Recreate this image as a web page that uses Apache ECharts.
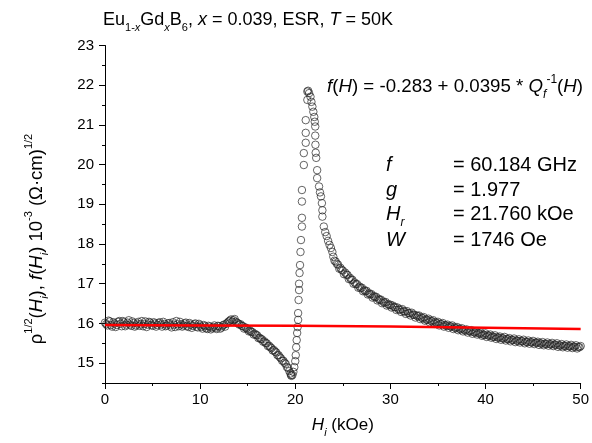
<!DOCTYPE html>
<html>
<head>
<meta charset="utf-8">
<script src="https://cdn.jsdelivr.net/npm/echarts@6/dist/echarts.min.js"></script>
<style>
html,body{margin:0;padding:0;background:#fff;}
#chart{width:592px;height:443px;}
</style>
</head>
<body>
<div id="chart"></div>
<script>
// ---- data ----
const yTickValues = [15, 16, 17, 18, 19, 20, 21, 22, 23];
const yMinorTickValues = [14.5, 15.5, 16.5, 17.5, 18.5, 19.5, 20.5, 21.5, 22.5];

// flat part below resonance, H = 0 ... 14 kOe (first sweep)
const flatBranch = [
  [0,16.02],[0.25,15.95],[0.5,16.05],[0.75,15.92],[1,16.0],[1.25,15.96],[1.5,16.06],[1.75,15.93],
  [2,16.03],[2.25,15.97],[2.5,16.08],[2.75,15.94],[3,16.01],[3.25,15.95],[3.5,16.04],[3.75,15.98],
  [4,15.93],[4.25,16.05],[4.5,15.97],[4.75,16.02],[5,15.94],[5.25,16.0],[5.5,15.96],[5.75,16.03],
  [6,15.92],[6.25,15.99],[6.5,15.95],[6.75,16.01],[7,15.9],[7.25,15.97],[7.5,16.06],[7.75,15.93],
  [8,15.98],[8.25,15.95],[8.5,16.02],[8.75,15.91],[9,15.97],[9.25,15.94],[9.5,16.0],[9.75,15.9],
  [10,15.95],[10.25,15.87],[10.5,15.93],[10.75,15.86],[11,15.92],[11.25,15.88],[11.5,15.95],[11.75,15.86],
  [12,15.93],[12.25,15.9],[12.5,15.97],[12.75,15.99],[13,16.05],[13.25,16.1],[13.5,16.08],[13.75,16.04],[14,16.0]
];
// flat part, second sweep
const flatBranch2 = [
  [0.125,15.98],[0.375,16.07],[0.625,15.96],[0.875,16.03],[1.125,15.91],[1.375,16.04],[1.625,15.99],[1.875,16.06],
  [2.125,15.93],[2.375,16.02],[2.625,15.97],[2.875,16.05],[3.125,15.92],[3.375,16.0],[3.625,15.94],[3.875,16.06],
  [4.125,15.99],[4.375,15.91],[4.625,16.04],[4.875,15.96],[5.125,16.03],[5.375,15.92],[5.625,16.01],[5.875,15.97],
  [6.125,16.04],[6.375,15.93],[6.625,16.0],[6.875,15.95],[7.125,16.03],[7.375,15.91],[7.625,15.98],[7.875,16.04],
  [8.125,15.92],[8.375,16.0],[8.625,15.94],[8.875,16.01],[9.125,15.89],[9.375,15.98],[9.625,15.92],[9.875,15.99],
  [10.125,15.91],[10.375,15.96],[10.625,15.88],[10.875,15.94],[11.125,15.85],[11.375,15.91],[11.625,15.89],[11.875,15.94],
  [12.125,15.87],[12.375,15.95],[12.625,15.92],[12.875,16.02],[13.125,16.07],[13.375,16.04],[13.625,16.11],[13.875,16.02]
];
// dip before resonance, H = 14.25 ... 19.6 kOe
const dipBranch = [
  [14.25,15.98],[14.5,15.93],[14.75,15.9],[15,15.85],[15.25,15.82],[15.5,15.78],[15.75,15.74],[16,15.7],
  [16.25,15.64],[16.5,15.6],[16.75,15.55],[17,15.5],[17.25,15.44],[17.5,15.38],[17.75,15.33],[18,15.27],
  [18.25,15.2],[18.5,15.12],[18.75,15.06],[19,14.98],[19.25,14.88],[19.5,14.74],[19.6,14.68]
];
const dipBranch2 = [
  [14.125,15.97],[14.375,15.94],[14.625,15.87],[14.875,15.88],[15.125,15.8],[15.375,15.79],[15.625,15.72],[15.875,15.71],
  [16.125,15.63],[16.375,15.61],[16.625,15.54],[16.875,15.51],[17.125,15.43],[17.375,15.4],[17.625,15.32],[17.875,15.29],
  [18.125,15.2],[18.375,15.15],[18.625,15.06],[18.875,15.01],[19.125,14.9],[19.375,14.8],[19.55,14.7]
];
// steep rise up to the peak
const risingBranch = [
  [19.7,14.7],[19.8,14.78],[19.9,14.9],[20.0,15.05],[20.05,15.2],[20.1,15.4],[20.15,15.58],[20.2,15.76],
  [20.25,15.91],[20.3,16.09],[20.3,16.26],[20.35,16.59],[20.4,16.84],[20.4,17.0],[20.45,17.27],[20.5,17.47],
  [20.55,17.8],[20.6,18.1],[20.7,18.44],[20.7,18.66],[20.7,19.07],[20.7,19.36],[20.9,19.99],[20.9,20.29],
  [21.1,20.55],[21.1,20.8],[21.1,21.12],[21.27,21.63],[21.27,21.84]
];
// fall after the peak, H = 21.35 ... 24 kOe
const fallingBranch = [
  [21.35,21.86],[21.45,21.8],[21.6,21.71],[21.7,21.58],[21.8,21.46],[21.9,21.33],[22.0,21.2],[22.05,21.08],
  [22.1,20.96],[22.1,20.73],[22.12,20.5],[22.15,20.3],[22.2,20.17],[22.3,19.86],[22.3,19.66],[22.5,19.45],
  [22.6,19.3],[22.7,19.2],[22.8,19.03],[22.85,18.85],[22.85,18.69],[23.0,18.44],[23.15,18.3],[23.3,18.2],
  [23.45,18.08],[23.6,17.98],[23.75,17.9],[23.9,17.8]
];
// tail above resonance, H = 24 ... 50 kOe (first sweep)
const tailBranch = [
  [24,17.68],[24.25,17.56],[24.5,17.48],[24.75,17.4],[25,17.33],[25.25,17.28],[25.5,17.22],[25.75,17.15],
  [26,17.1],[26.25,17.03],[26.5,16.99],[26.75,16.93],[27,16.9],[27.25,16.84],[27.5,16.82],[27.75,16.76],
  [28,16.74],[28.25,16.69],[28.5,16.67],[28.75,16.62],[29,16.6],[29.25,16.55],[29.5,16.54],[29.75,16.49],
  [30,16.47],[30.25,16.45],[30.5,16.41],[30.75,16.4],[31,16.35],[31.25,16.36],[31.5,16.3],[31.75,16.31],
  [32,16.26],[32.25,16.27],[32.5,16.22],[32.75,16.2],[33,16.2],[33.25,16.15],[33.5,16.16],[33.75,16.1],
  [34,16.12],[34.25,16.07],[34.5,16.08],[34.75,16.03],[35,16.04],[35.25,15.99],[35.5,16.01],[35.75,15.96],
  [36,15.97],[36.25,15.93],[36.5,15.95],[36.75,15.9],[37,15.91],[37.25,15.87],[37.5,15.88],[37.75,15.84],
  [38,15.85],[38.25,15.81],[38.5,15.83],[38.75,15.78],[39,15.8],[39.25,15.76],[39.5,15.77],[39.75,15.72],
  [40,15.75],[40.25,15.7],[40.5,15.72],[40.75,15.67],[41,15.7],[41.25,15.65],[41.5,15.67],[41.75,15.63],
  [42,15.66],[42.25,15.61],[42.5,15.63],[42.75,15.59],[43,15.62],[43.25,15.57],[43.5,15.6],[43.75,15.56],
  [44,15.59],[44.25,15.54],[44.5,15.57],[44.75,15.53],[45,15.56],[45.25,15.52],[45.5,15.54],[45.75,15.5],
  [46,15.53],[46.25,15.49],[46.5,15.52],[46.75,15.48],[47,15.51],[47.25,15.47],[47.5,15.5],[47.75,15.45],
  [48,15.48],[48.25,15.44],[48.5,15.47],[48.75,15.43],[49,15.46],[49.25,15.42],[49.5,15.45],[49.75,15.41],[50,15.43]
];
// tail, second sweep
const tailBranch2 = [
  [24.125,17.58],[24.375,17.5],[24.625,17.38],[24.875,17.35],[25.125,17.24],[25.375,17.23],[25.625,17.12],[25.875,17.1],
  [26.125,17.0],[26.375,16.99],[26.625,16.9],[26.875,16.89],[27.125,16.81],[27.375,16.81],[27.625,16.73],[27.875,16.73],
  [28.125,16.65],[28.375,16.66],[28.625,16.58],[28.875,16.59],[29.125,16.51],[29.375,16.52],[29.625,16.45],[29.875,16.46],
  [30.125,16.4],[30.375,16.41],[30.625,16.34],[30.875,16.35],[31.125,16.29],[31.375,16.31],[31.625,16.24],[31.875,16.26],
  [32.125,16.2],[32.375,16.22],[32.625,16.15],[32.875,16.18],[33.125,16.11],[33.375,16.13],[33.625,16.07],[33.875,16.09],
  [34.125,16.03],[34.375,16.05],[34.625,15.99],[34.875,16.01],[35.125,15.95],[35.375,15.98],[35.625,15.92],[35.875,15.94],
  [36.125,15.89],[36.375,15.92],[36.625,15.86],[36.875,15.88],[37.125,15.83],[37.375,15.85],[37.625,15.8],[37.875,15.82],
  [38.125,15.77],[38.375,15.8],[38.625,15.74],[38.875,15.77],[39.125,15.72],[39.375,15.74],[39.625,15.69],[39.875,15.71],
  [40.125,15.66],[40.375,15.69],[40.625,15.64],[40.875,15.66],[41.125,15.61],[41.375,15.64],[41.625,15.59],[41.875,15.62],
  [42.125,15.57],[42.375,15.6],[42.625,15.55],[42.875,15.58],[43.125,15.53],[43.375,15.56],[43.625,15.52],[43.875,15.55],
  [44.125,15.5],[44.375,15.53],[44.625,15.49],[44.875,15.52],[45.125,15.48],[45.375,15.51],[45.625,15.46],[45.875,15.49],
  [46.125,15.45],[46.375,15.48],[46.625,15.44],[46.875,15.47],[47.125,15.43],[47.375,15.46],[47.625,15.41],[47.875,15.44],
  [48.125,15.4],[48.375,15.43],[48.625,15.39],[48.875,15.42],[49.125,15.38],[49.375,15.41],[49.625,15.37],[49.875,15.4]
];
// fitted f(H) (red line)
const fitLine = [[0,15.96],[10,15.95],[20,15.94],[30,15.92],[40,15.89],[50,15.86]];

const esrPoints = [].concat(flatBranch, flatBranch2, dipBranch, dipBranch2, risingBranch,
                            fallingBranch, tailBranch, tailBranch2);

// ---- chart ----
const FONT = 'Arial, "Liberation Sans", sans-serif';
const chart = echarts.init(document.getElementById('chart'), null, {renderer: 'canvas'});

function richSet(base) {
  const lh = Math.round(base * 1.45);
  const s = Math.round(base * 0.62);
  return {
    n:  {fontSize: base, fontFamily: FONT, color: '#000', lineHeight: lh},
    i:  {fontSize: base, fontFamily: FONT, color: '#000', fontStyle: 'italic', lineHeight: lh},
    sub:{fontSize: s, fontFamily: FONT, color: '#000', lineHeight: s, verticalAlign: 'bottom'},
    subi:{fontSize: s, fontFamily: FONT, color: '#000', fontStyle: 'italic', lineHeight: s, verticalAlign: 'bottom'},
    sup:{fontSize: s, fontFamily: FONT, color: '#000', lineHeight: s, verticalAlign: 'top'}
  };
}

function txt(x, y, text, size) {
  return {
    type: 'text', x: x, y: y, silent: true,
    style: {
      text: text, rich: richSet(size), fontSize: size, fontFamily: FONT, fill: '#000',
      textAlign: 'left', textVerticalAlign: 'middle', align: 'left', verticalAlign: 'middle'
    }
  };
}

const option = {
  animation: false,
  backgroundColor: '#fff',
  grid: {left: 105, right: 9, top: 45.5, bottom: 60, containLabel: false},
  xAxis: {
    type: 'value', min: 0, max: 50, interval: 10,
    name: '{i|H}{subi|i}{n| (kOe)}', nameLocation: 'middle', nameGap: 30,
    nameTextStyle: {rich: richSet(17)},
    axisLine: {show: true, onZero: false, lineStyle: {color: '#000', width: 1}},
    axisTick: {show: true, length: 6, lineStyle: {color: '#000', width: 1}},
    minorTick: {show: true, splitNumber: 2, length: 3, lineStyle: {color: '#000', width: 1}},
    axisLabel: {fontSize: 15, fontFamily: FONT, color: '#000', margin: 9},
    splitLine: {show: false}
  },
  yAxis: [{
    type: 'value', min: 14.5, max: 23,
    axisLine: {show: true, onZero: false, lineStyle: {color: '#000', width: 1}},
    axisTick: {show: true, length: 6, customValues: yTickValues, lineStyle: {color: '#000', width: 1}},
    axisLabel: {fontSize: 15, fontFamily: FONT, color: '#000', margin: 11, customValues: yTickValues},
    splitLine: {show: false}
  }, {
    type: 'value', min: 14.5, max: 23, position: 'left',
    axisLine: {show: false},
    axisTick: {show: true, length: 3, customValues: yMinorTickValues, lineStyle: {color: '#000', width: 1}},
    axisLabel: {show: false},
    splitLine: {show: false}
  }],
  series: [{
    type: 'scatter',
    data: esrPoints,
    symbol: 'circle',
    symbolSize: 7.5,
    itemStyle: {color: 'rgba(0,0,0,0)', borderColor: '#222', borderWidth: 0.7, opacity: 1},
    z: 2
  }, {
    type: 'line',
    data: fitLine,
    showSymbol: false,
    symbol: 'none',
    lineStyle: {color: '#ff0000', width: 2.5},
    z: 3
  }],
  graphic: [
    txt(103, 20, '{n|Eu}{sub|1-}{subi|x}{n|Gd}{subi|x}{n|B}{sub|6}{n|, }{i|x}{n| = 0.039, ESR, }{i|T}{n| = 50K}', 18),
    txt(327, 87, '{i|f}{n|(}{i|H}{n|) = -0.283 + 0.0395 * }{i|Q}{subi|f}{sup|-1}{n|(}{i|H}{n|)}', 18.7),
    txt(386, 165, '{i|f}', 20),
    txt(386, 190, '{i|g}', 20),
    txt(386, 214, '{i|H}{subi|r}', 20),
    txt(386, 240, '{i|W}', 20),
    txt(453, 165, '{n|= 60.184 GHz}', 20),
    txt(453, 190, '{n|= 1.977}', 20),
    txt(453, 214, '{n|= 21.760 kOe}', 20),
    txt(453, 240, '{n|= 1746 Oe}', 20),
    {
      type: 'text', x: 37, y: 239, rotation: Math.PI / 2, silent: true,
      style: {
        text: '{n|ρ}{sup|1/2}{n|(}{i|H}{subi|i}{n|), }{i|f}{n|(}{i|H}{subi|i}{n|) 10}{sup|-3}{n| (Ω·cm)}{sup|1/2}',
        rich: richSet(18.5), fontSize: 18.5, fontFamily: FONT, fill: '#000',
        textAlign: 'center', textVerticalAlign: 'middle', align: 'center', verticalAlign: 'middle'
      }
    }
  ]
};
chart.setOption(option);
</script>
</body>
</html>
